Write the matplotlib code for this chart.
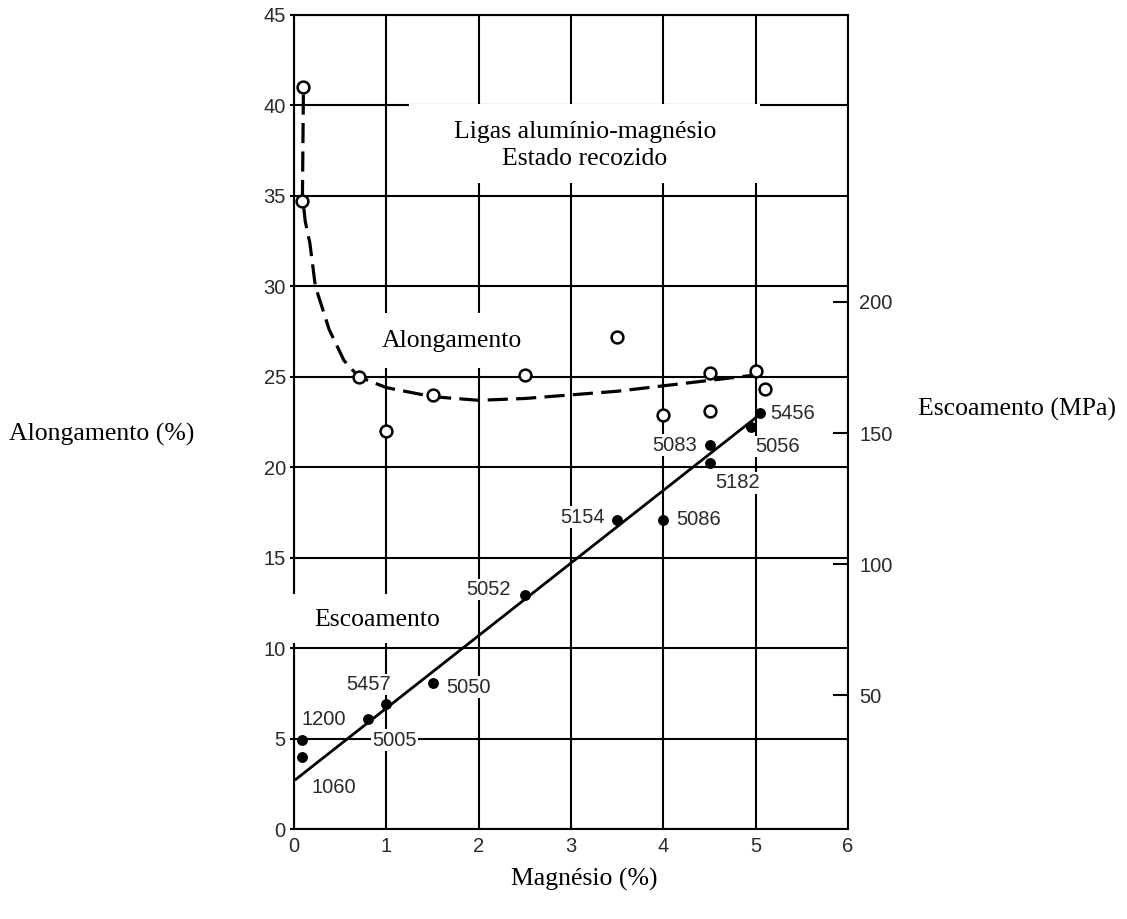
import numpy as np
import matplotlib
matplotlib.use("Agg")
import matplotlib.pyplot as plt
from matplotlib.patches import Rectangle

# alongamento (%) - open circles
along_mg = [0.1, 0.08, 0.7, 1.0, 1.5, 2.5, 3.5, 4.0, 4.5, 4.5, 5.0, 5.1]
along_pct = [41.0, 34.7, 25.0, 22.0, 24.0, 25.1, 27.2, 22.9, 25.2, 23.1, 25.3, 24.3]

# dashed trend of the alongamento
curve_mg = [0.1, 0.09, 0.12, 0.17, 0.23, 0.38, 0.54, 0.7, 1.0, 1.5, 2.0, 2.5, 3.0, 3.5, 4.0, 4.5, 5.0]
curve_pct = [40.6, 35.0, 33.6, 32.4, 30.0, 27.6, 25.9, 25.0, 24.4, 23.9, 23.7, 23.8, 24.0, 24.2, 24.5, 24.8, 25.1]

# escoamento (MPa) - filled dots, one per alloy
ligas = ["1200", "1060", "5005", "5457", "5050", "5052", "5154", "5086", "5083", "5182", "5056", "5456"]
esc_mg = [0.08, 0.08, 0.8, 1.0, 1.5, 2.5, 3.5, 4.0, 4.5, 4.5, 4.95, 5.05]
esc_mpa = [32.8, 26.3, 40.8, 46.6, 54.6, 88.2, 116.8, 117.0, 145.4, 138.5, 152.3, 157.6]

# straight trend of the escoamento
reta_mg = [0.02, 5.04]
reta_mpa = [17.9, 156.9]

# where each alloy label sits (offset in points, alignment)
offs = {"1200": (0, 15, "left"), "1060": (7, -22, "left"), "5005": (3, -15, "left"),
        "5457": (3, 14, "right"), "5050": (10, -3, "left"), "5052": (-10, 4, "right"),
        "5154": (-9, 2, "right"), "5086": (9, 0, "left"), "5083": (-9, 0, "right"),
        "5182": (4, -14, "left"), "5056": (3, -14, "left"), "5456": (7, 0, "left")}

serif = "Liberation Serif"
sans = "Liberation Sans"
tcol = "#2a2a2a"
lw = 1.5

fig = plt.figure(figsize=(11.27, 9.19), dpi=100)
ax = fig.add_axes([0.261, 0.0979, 0.4914, 0.8858])
ax2 = ax.twinx()

ax.set_xlim(0, 6)
ax.set_ylim(0, 45)
ax.set_xticks(range(0, 7))
ax.set_yticks(range(0, 50, 5))
ax.grid(True, color="black", lw=lw)
for s in ax.spines.values():
    s.set_linewidth(lw)
ax.tick_params(axis="x", length=0, pad=6, labelsize=14.5, labelcolor=tcol)
ax.tick_params(axis="y", length=3, width=lw, pad=3, labelsize=14.5, labelcolor=tcol)
for t in ax.get_xticklabels() + ax.get_yticklabels():
    t.set_fontfamily(sans)

ax2.set_ylim(-1.1, 309.5)
ax2.set_yticks([50, 100, 150, 200])
ax2.tick_params(axis="y", direction="in", length=11, width=lw, pad=8, labelsize=14.5, labelcolor=tcol)
for t in ax2.get_yticklabels():
    t.set_fontfamily(sans)
for s in ax2.spines.values():
    s.set_visible(False)

# white boxes behind the texts, covering the grid
for (x0, y0, w, h) in [(1.24, 35.7, 3.81, 4.4), (0.94, 25.5, 1.62, 3.0), (-0.05, 10.3, 1.8, 2.7)]:
    ax.add_patch(Rectangle((x0, y0), w, h, facecolor="white", edgecolor="none", zorder=2.6, clip_on=False))

ax.text(3.15, 37.8, "Ligas alumínio-magnésio\nEstado recozido", ha="center", va="center",
        fontsize=18.5, family=serif, linespacing=1.3, zorder=4)
ax.text(0.95, 27.0, "Alongamento", ha="left", va="center", fontsize=18.5, family=serif, zorder=4)
ax.text(0.22, 11.55, "Escoamento", ha="left", va="center", fontsize=18.5, family=serif, zorder=4)

ax.plot(curve_mg, curve_pct, color="black", lw=2.3, dashes=(6.3, 2.6), zorder=3)
ax.plot(along_mg, along_pct, "o", ms=8.5, mfc="white", mec="black", mew=1.8, zorder=4)

ax2.plot(reta_mg, reta_mpa, color="black", lw=2.0, zorder=3)
ax2.plot(esc_mg, esc_mpa, "o", ms=6.8, color="black", zorder=4)
for nome, mx, my in zip(ligas, esc_mg, esc_mpa):
    dx, dy, ha = offs[nome]
    ax2.annotate(nome, (mx, my), xytext=(dx, dy), textcoords="offset points", ha=ha, va="center",
                 fontsize=14.5, family=sans, color=tcol, zorder=5,
                 bbox=dict(facecolor="white", edgecolor="none", pad=1))

fig.text(0.09, 0.527, "Alongamento (%)", ha="center", va="center", fontsize=18.5, family=serif)
fig.text(0.902, 0.554, "Escoamento (MPa)", ha="center", va="center", fontsize=18.5, family=serif)
fig.text(0.518, 0.0425, "Magnésio (%)", ha="center", va="center", fontsize=18.5, family=serif)

fig.savefig("out.png", dpi=100)
